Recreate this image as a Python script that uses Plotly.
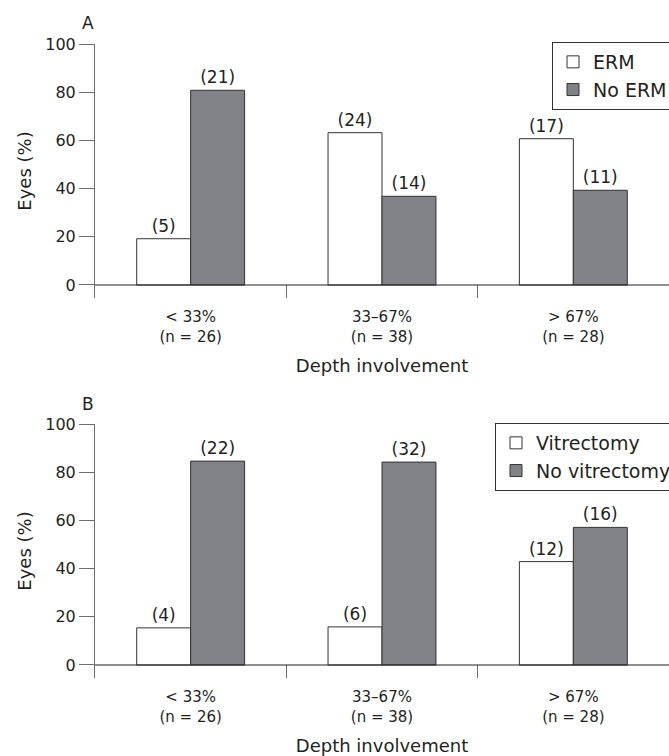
import plotly.graph_objects as go

# ---- data ----
categories = ["< 33%<br>(n = 26)", "33–67%<br>(n = 38)", "> 67%<br>(n = 28)"]

# Panel A
erm_pct = [19.2, 63.2, 60.7]
erm_counts = [5, 24, 17]
no_erm_pct = [80.8, 36.8, 39.3]
no_erm_counts = [21, 14, 11]

# Panel B
vit_pct = [15.4, 15.8, 42.9]
vit_counts = [4, 6, 12]
no_vit_pct = [84.6, 84.2, 57.1]
no_vit_counts = [22, 32, 16]

y_ticks = [0, 20, 40, 60, 80, 100]

# ---- style ----
FONT = "DejaVu Sans"
TXT = "#231f20"
GRAY = "#808285"
EDGE = "#333333"
AXC = "#6d6e71"
W, H = 669, 756
L = 95

fig = go.Figure()

def add_bars(x_ax, y_ax, legend, names, pcts, counts, fills):
    for name, p, c, f in zip(names, pcts, counts, fills):
        fig.add_trace(go.Bar(
            x=categories, y=p, name=name, xaxis=x_ax, yaxis=y_ax, legend=legend,
            marker=dict(color=f, line=dict(color=EDGE, width=1)),
            text=[f"({v})" for v in c], textposition="outside",
            textfont=dict(family=FONT, size=17, color=TXT),
            cliponaxis=False, hoverinfo="skip",
        ))

add_bars("x", "y", "legend", ["ERM", "No ERM"], [erm_pct, no_erm_pct],
         [erm_counts, no_erm_counts], ["white", GRAY])
add_bars("x2", "y2", "legend2", ["Vitrectomy", "No vitrectomy"], [vit_pct, no_vit_pct],
         [vit_counts, no_vit_counts], ["white", GRAY])

def px_to_paper_y(py):
    return (H - py) / H

def px_to_paper_x(px):
    return (px - L) / (W - L)

domA = [px_to_paper_y(298), px_to_paper_y(44)]
domB = [px_to_paper_y(678), px_to_paper_y(424)]

def xax(standoff):
    return dict(type="category", range=[-0.5, 2.5], showline=False, showgrid=False,
                zeroline=False, ticks="inside", tickson="boundaries", ticklen=13,
                tickcolor=AXC, tickwidth=1, automargin=False, ticklabelstandoff=8,
                tickfont=dict(family=FONT, size=15, color=TXT),
                title=dict(text="Depth involvement",
                           font=dict(family=FONT, size=18, color=TXT),
                           standoff=standoff))

yax = dict(range=[-5.4, 100], showline=True, linecolor=AXC, linewidth=1,
           showgrid=False, zeroline=False, ticks="outside", ticklen=15,
           tickcolor=AXC, tickwidth=1, tickvals=y_ticks, automargin=False,
           tickfont=dict(family=FONT, size=16, color=TXT),
           title=dict(text="Eyes (%)", font=dict(family=FONT, size=18, color=TXT),
                      standoff=8))

fig.update_layout(
    width=W, height=H,
    margin=dict(l=L, r=0, t=0, b=0, autoexpand=False),
    paper_bgcolor="white", plot_bgcolor="white",
    barmode="group", bargap=0.436, bargroupgap=0,
    font=dict(family=FONT, color=TXT),
    xaxis=dict(xax(14), anchor="y", domain=[0, 1]),
    yaxis=dict(yax, anchor="x", domain=domA),
    xaxis2=dict(xax(22), anchor="y2", domain=[0, 1]),
    yaxis2=dict(yax, anchor="x2", domain=domB),
    legend=dict(x=px_to_paper_x(552), y=px_to_paper_y(42), xanchor="left", yanchor="top",
                bordercolor=EDGE, borderwidth=1, bgcolor="white",
                font=dict(family=FONT, size=19, color=TXT), itemwidth=30),
    legend2=dict(x=px_to_paper_x(495), y=px_to_paper_y(423), xanchor="left", yanchor="top",
                 bordercolor=EDGE, borderwidth=1, bgcolor="white",
                 font=dict(family=FONT, size=19, color=TXT), itemwidth=30),
    showlegend=True,
)

# baselines at y = 0
for yr in ["y", "y2"]:
    fig.add_shape(type="line", xref="paper", yref=yr, x0=0, x1=1, y0=0, y1=0,
                  line=dict(color="#231f20", width=1.2))

# panel labels
for lab, py in [("A", 23.5), ("B", 403.5)]:
    fig.add_annotation(text=lab, xref="paper", yref="paper", x=px_to_paper_x(88),
                       y=px_to_paper_y(py), xanchor="center", yanchor="middle",
                       showarrow=False, font=dict(family=FONT, size=17, color=TXT))

fig.write_html(
    "out.html",
    config={"displayModeBar": False},
    post_script="document.documentElement.style.margin='0';document.body.style.margin='0';"
                "document.body.style.overflow='hidden';",
)
